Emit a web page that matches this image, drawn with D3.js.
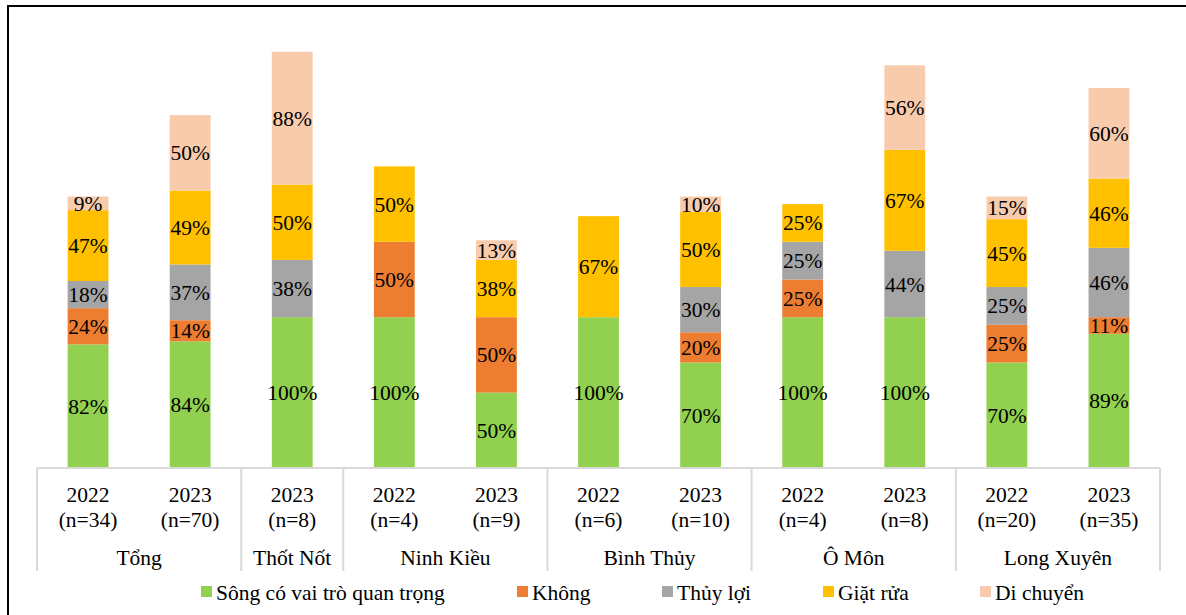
<!DOCTYPE html>
<html>
<head>
<meta charset="utf-8">
<script src="https://cdn.jsdelivr.net/npm/d3@7"></script>
<style>
  body { margin: 0; background: #fff; }
</style>
</head>
<body>
<div class="canvas"></div>
<script>
// data
const years = ['2022', '2023', '2023', '2022', '2023', '2022', '2023', '2022', '2023', '2022', '2023'];
const sizes = ['(n=34)', '(n=70)', '(n=8)', '(n=4)', '(n=9)', '(n=6)', '(n=10)', '(n=4)', '(n=8)', '(n=20)', '(n=35)'];
const groups = ['Tổng', 'Thốt Nốt', 'Ninh Kiều', 'Bình Thủy', 'Ô Môn', 'Long Xuyên'];
const groupSizes = [2, 1, 2, 2, 2, 2];
const seriesNames = ['Sông có vai trò quan trọng', 'Không', 'Thủy lợi', 'Giặt rửa', 'Di chuyển'];
const song = [82, 84, 100, 100, 50, 100, 70, 100, 100, 70, 89];
const khong = [24, 14, 0, 50, 50, 0, 20, 25, 0, 25, 11];
const thuyLoi = [18, 37, 38, 0, 0, 0, 30, 25, 44, 25, 46];
const giatRua = [47, 49, 50, 50, 38, 67, 50, 25, 67, 45, 46];
const diChuyen = [9, 50, 88, 0, 13, 0, 10, 0, 56, 15, 60];
const colors = ['#92d050', '#ed7d31', '#a5a5a5', '#ffc000', '#f8cbad'];

const series = [song, khong, thuyLoi, giatRua, diChuyen];
const ids = years.map((y, i) => i);
const rows = ids.map(i => {
    const r = { id: i };
    series.forEach((s, k) => r['s' + k] = s[i]);
    return r;
});

const fs = 21.5;

// svg
const svg = d3.select('.canvas')
    .append('svg')
    .attr('width', 1186)
    .attr('height', 615)
    .style('font-family', '"Times New Roman", "Liberation Serif", "DejaVu Serif", serif')
    .attr('fill', '#000');

// outer frame
svg.append('rect')
    .attr('x', 8).attr('y', 6)
    .attr('width', 1200).attr('height', 640)
    .attr('fill', 'none')
    .attr('stroke', '#000')
    .attr('stroke-width', 2);

const left = 37, right = 1160, base = 468;

const xScale = d3.scaleBand()
    .domain(ids)
    .range([left, right])
    .paddingInner(0.6)
    .paddingOuter(0.3);

const yScale = d3.scaleLinear()
    .domain([0, 100])
    .range([base, base - 150.8]);

const stack = d3.stack().keys(series.map((s, k) => 's' + k));
const layers = stack(rows);

const layerG = svg.selectAll('g.layer')
    .data(layers)
    .enter()
    .append('g')
    .attr('class', 'layer');

layerG.selectAll('rect')
    .data(d => d.filter(p => p[1] - p[0] > 0))
    .enter()
    .append('rect')
    .attr('x', d => xScale(d.data.id))
    .attr('width', xScale.bandwidth())
    .attr('y', d => yScale(d[1]))
    .attr('height', d => yScale(d[0]) - yScale(d[1]))
    .attr('fill', function () { return colors[layers.indexOf(d3.select(this.parentNode).datum())]; });

layerG.selectAll('text')
    .data(d => d.filter(p => p[1] - p[0] > 0))
    .enter()
    .append('text')
    .attr('x', d => xScale(d.data.id) + xScale.bandwidth() / 2)
    .attr('y', d => (yScale(d[0]) + yScale(d[1])) / 2)
    .attr('dy', '0.35em')
    .attr('text-anchor', 'middle')
    .attr('font-size', fs)
    .text(d => (d[1] - d[0]) + '%');

// category axis (multi-level)
const axisColor = '#d9d9d9';
svg.append('line')
    .attr('x1', left).attr('x2', right)
    .attr('y1', base).attr('y2', base)
    .attr('stroke', axisColor).attr('stroke-width', 2);

let start = 0;
const bounds = [left];
groupSizes.forEach(n => {
    start += n;
    bounds.push(start < ids.length ? (xScale(start - 1) + xScale.bandwidth() + xScale(start)) / 2 : right);
});

svg.selectAll('line.sep')
    .data(bounds)
    .enter()
    .append('line')
    .attr('class', 'sep')
    .attr('x1', d => d).attr('x2', d => d)
    .attr('y1', base).attr('y2', 571)
    .attr('stroke', axisColor).attr('stroke-width', 2);

const tickG = svg.selectAll('g.tick')
    .data(ids)
    .enter()
    .append('g')
    .attr('class', 'tick')
    .attr('transform', d => `translate(${xScale(d) + xScale.bandwidth() / 2}, 0)`);

tickG.append('text')
    .attr('y', 502)
    .attr('text-anchor', 'middle')
    .attr('font-size', fs)
    .text(d => years[d]);

tickG.append('text')
    .attr('y', 527)
    .attr('text-anchor', 'middle')
    .attr('font-size', fs)
    .text(d => sizes[d]);

svg.selectAll('text.group')
    .data(groups)
    .enter()
    .append('text')
    .attr('class', 'group')
    .attr('x', (d, i) => (bounds[i] + bounds[i + 1]) / 2)
    .attr('y', 565)
    .attr('text-anchor', 'middle')
    .attr('font-size', fs)
    .text(d => d);

// legend
const legendX = [201, 517, 662, 823, 980];
const legend = svg.selectAll('g.legend')
    .data(seriesNames)
    .enter()
    .append('g')
    .attr('class', 'legend')
    .attr('transform', (d, i) => `translate(${legendX[i]}, 592)`);

legend.append('rect')
    .attr('x', 0).attr('y', -6)
    .attr('width', 11).attr('height', 11)
    .attr('fill', (d, i) => colors[i]);

legend.append('text')
    .attr('x', 15)
    .attr('dy', '0.35em')
    .attr('font-size', fs)
    .text(d => d);
</script>
</body>
</html>
